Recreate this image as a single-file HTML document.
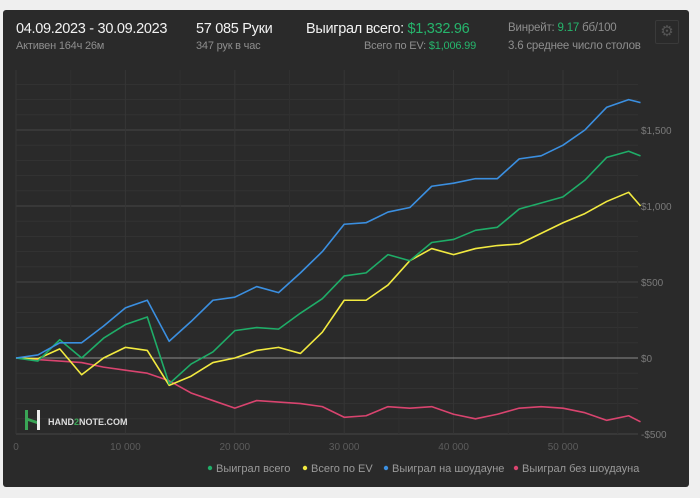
<!DOCTYPE html>
<html><head><meta charset="utf-8">
<style>
html,body{margin:0;padding:0;background:#efefef;width:700px;height:498px;overflow:hidden;font-family:"Liberation Sans",sans-serif}
#card{position:absolute;left:3px;top:10px;width:686px;height:477px;background:#2a2a2a;border-radius:3px}
.t{position:absolute;white-space:nowrap}
.big{font-size:14.5px;color:#f2f2f2;letter-spacing:-0.3px}
.sm{font-size:11px;color:#8e8e8e;letter-spacing:-0.2px}
.g{color:#26b56c}
svg{position:absolute;left:0;top:0}
</style></head><body>
<div id="card"></div>
<div class="t big" style="left:16px;top:21px">04.09.2023 - 30.09.2023</div>
<div class="t sm" style="left:16px;top:40px">Активен 164ч 26м</div>
<div class="t big" style="left:196px;top:21px">57 085 Руки</div>
<div class="t sm" style="left:196px;top:40px">347 рук в час</div>
<div class="t big" style="left:306px;top:21px">Выиграл всего: <span class="g">$1,332.96</span></div>
<div class="t sm" style="right:224px;top:40px">Всего по EV: <span class="g">$1,006.99</span></div>
<div class="t sm" style="left:508px;top:22px;font-size:11.5px">Винрейт: <span class="g">9.17</span> бб/100</div>
<div class="t sm" style="left:508px;top:40px;font-size:11.5px">3.6 среднее число столов</div>
<div class="t" style="left:655px;top:20px;width:22px;height:22px;border:1px solid #3a3a3a;border-radius:2px;color:#555;font-size:15px;text-align:center;line-height:22px">⚙</div>
<svg id="chart" width="700" height="498"></svg>
<script>
const hands=[0,2000,4000,6000,8000,10000,12000,14000,16000,18000,20000,22000,24000,26000,28000,30000,32000,34000,36000,38000,40000,42000,44000,46000,48000,50000,52000,54000,56000,57085];
const wonTotal=[0,-20,120,0,130,220,270,-170,-40,40,180,200,190,295,390,540,560,680,640,760,780,840,860,980,1020,1060,1170,1320,1360,1330];
const evTotal=[0,-5,60,-110,0,70,50,-180,-120,-30,0,50,70,30,170,380,380,480,640,720,680,720,740,750,820,890,950,1030,1090,1000];
const showdown=[0,20,100,100,210,330,380,110,240,380,400,470,430,560,700,880,890,960,990,1130,1150,1180,1180,1310,1330,1400,1500,1650,1700,1680];
const nonShowdown=[0,-10,-20,-30,-60,-80,-100,-150,-230,-280,-330,-280,-290,-300,-320,-390,-380,-320,-330,-320,-370,-400,-370,-330,-320,-330,-360,-410,-380,-420];
const xTicks=[0,10000,20000,30000,40000,50000];
const xTickLabels=["0","10 000","20 000","30 000","40 000","50 000"];
const yTicks=[-500,0,500,1000,1500];
const yTickLabels=["-$500","$0","$500","$1,000","$1,500"];
const NS="http://www.w3.org/2000/svg";
const svg=document.getElementById('chart');
const X=h=>16+h*0.01094;
const Y=v=>358-v*0.152;
function mk(tag,attrs,parent){const e=document.createElementNS(NS,tag);for(const k in attrs)e.setAttribute(k,attrs[k]);(parent||svg).appendChild(e);return e;}
const x0=16,x1=638,yTop=70,yBot=434;
// minor grid
for(let v=-500;v<=1800;v+=100){if(Y(v)<yTop)break;const l=mk('line',{x1:x0,x2:x1,y1:Y(v),y2:Y(v),stroke:v%500===0?'#474747':'#333',"stroke-width":1});

}
for(let h=0;h<=57000;h+=5000){const l=mk('line',{x1:X(h),x2:X(h),y1:yTop,y2:yBot,stroke:h%10000===0?'#363636':'#303030'});

}
const zl=mk('line',{x1:x0,x2:x1,y1:Y(0),y2:Y(0),stroke:'#8a8a8a',"stroke-width":1});


xTicks.forEach((t,i)=>{const e=mk('text',{x:X(t),y:450,fill:'#5c5c5c',"font-size":10,"text-anchor":"middle","font-family":"Liberation Sans"});e.textContent=xTickLabels[i];

});
yTicks.forEach((t,i)=>{const e=mk('text',{x:641,y:Y(t)+4,fill:'#7a7a7a',"font-size":10,"font-family":"Liberation Sans"});e.textContent=yTickLabels[i];

});
const series=[[nonShowdown,'#d9446f','series-non-showdown'],[evTotal,'#f2ea40','series-ev-total'],[wonTotal,'#1fad68','series-won-total'],[showdown,'#3b8fe0','series-showdown']];
series.forEach(([d,c,n])=>{const p=mk('polyline',{points:hands.map((h,i)=>X(h)+','+Y(d[i])).join(' '),fill:'none',stroke:c,"stroke-width":1.6,"stroke-linejoin":"round"});

});
// logo
const lg=mk('g',{});


mk('rect',{x:25,y:410,width:3,height:20,fill:'#3aa556'},lg);
mk('rect',{x:37,y:410,width:3,height:20,fill:'#eee'},lg);
mk('polygon',{points:'28,418 37,421 37,424 28,421',fill:'#3aa556'},lg);
const lt=mk('text',{x:48,y:425,fill:'#ddd',"font-size":9,"font-weight":"bold","font-family":"Liberation Sans"},lg);
lt.innerHTML='HAND<tspan fill="#3aa556">2</tspan>NOTE.COM';
// legend
const leg=[['Выиграл всего','#1fad68',210],['Всего по EV','#f2ea40',305],['Выиграл на шоудауне','#3b8fe0',386],['Выиграл без шоудауна','#d9446f',516]];
leg.forEach(([t,c,x])=>{const g=mk('g',{});


mk('circle',{cx:x,cy:468,r:2.2,fill:c},g);
const e=mk('text',{x:x+6,y:472,fill:'#9a9a9a',"font-size":11,"font-family":"Liberation Sans"},g);e.textContent=t;});
</script>
</body></html>
